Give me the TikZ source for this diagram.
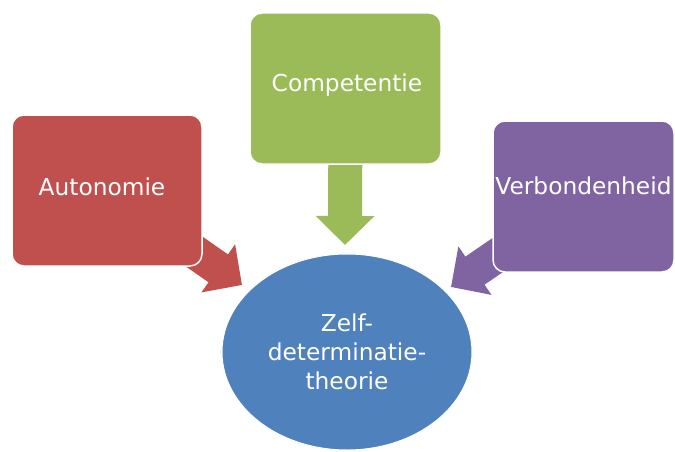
\documentclass[tikz,border=0pt]{standalone}
\usepackage{fontspec}
\setmainfont{DejaVu Sans}
\usetikzlibrary{shapes.geometric,arrows.meta,backgrounds}
\definecolor{ored}{HTML}{C0504D}
\definecolor{ogreen}{HTML}{9BBB59}
\definecolor{opurple}{HTML}{8064A2}
\definecolor{oblue}{HTML}{4F81BD}
\begin{document}
\begin{tikzpicture}[x=1pt,y=-1pt,
  box/.style={rectangle,rounded corners=12pt,draw=white,line width=1.5pt,
    text=white,inner sep=0pt,minimum height=151pt,
    font=\fontsize{23.3}{29}\selectfont,text height=17pt},
  bigarrow/.style={line width=34pt,-{Triangle[width=57pt,length=29pt]}},
  core/.style={ellipse,fill=oblue,draw=white,line width=1pt,text=white,
    minimum width=250pt,minimum height=196pt,inner sep=0pt,align=center,
    font=\fontsize{23.3}{29}\selectfont}]
\useasboundingbox (0,0) rectangle (675,452);
\node[box,fill=ored,minimum width=190pt,text depth=7pt] (a) at (107,190.5) {Autonomie\hspace*{10pt}};
\node[box,fill=ogreen,minimum width=191pt,text depth=11pt] (c) at (345.5,88.5) {\hspace*{3pt}Competentie};
\node[box,fill=opurple,minimum width=181pt,text depth=22pt] (v) at (583.5,196.5) {Verbondenheid};
\node[core] (z) at (347,352) {Zelf-\\determinatie-\\theorie};
\coordinate (ta) at (242,285);
\coordinate (tc) at (345,245);
\coordinate (tv) at (451,287);
\begin{pgfonlayer}{background}
\draw[bigarrow,ored] (a.center) -- (ta);
\draw[bigarrow,ogreen] (c.center) -- (tc);
\draw[bigarrow,opurple] (v.center) -- (tv);
\end{pgfonlayer}
\end{tikzpicture}
\end{document}
